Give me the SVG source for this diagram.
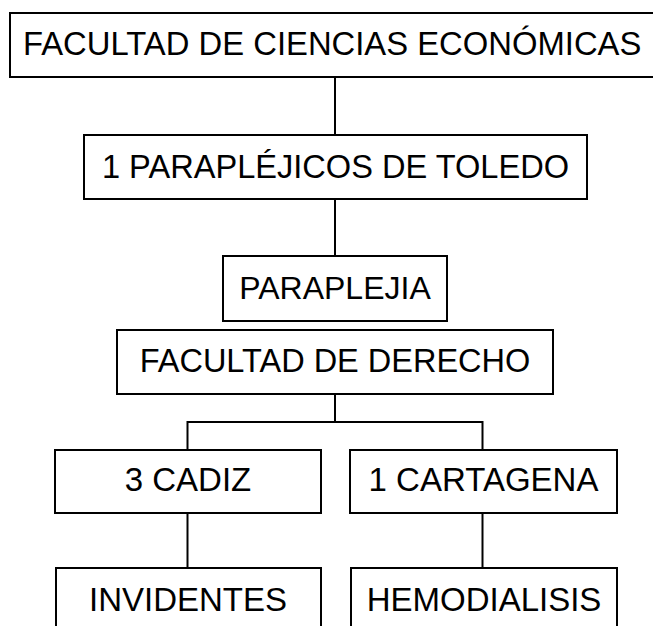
<svg xmlns="http://www.w3.org/2000/svg" width="653" height="626" viewBox="0 0 653 626">
<style>
.box{fill:#fff;stroke:#000;stroke-width:2}
.t{font-family:"Liberation Sans",Arial,sans-serif;font-size:33px;fill:#000;text-anchor:middle}
.c{stroke:#000;stroke-width:2;fill:none}
</style>
<rect width="653" height="626" fill="#fff"/>
<g id="connectors">
<line class="c" x1="335" y1="77" x2="335" y2="135"/>
<line class="c" x1="335" y1="199" x2="335" y2="256"/>
<polyline class="c" points="335,394 335,422 187.5,422 187.5,450"/>
<polyline class="c" points="335,422 482.5,422 482.5,450"/>
<line class="c" x1="187.5" y1="513" x2="187.5" y2="568"/>
<line class="c" x1="482.5" y1="513" x2="482.5" y2="568"/>
</g>
<g id="n1"><rect class="box" x="10" y="13" width="660" height="64"/><text class="t" x="23" y="55" style="text-anchor:start;font-size:32.8px">FACULTAD DE CIENCIAS ECONÓMICAS</text></g>
<g id="n2"><rect class="box" x="84" y="135" width="503" height="64"/><text class="t" x="335.5" y="178" style="font-size:32.6px">1 PARAPLÉJICOS DE TOLEDO</text></g>
<g id="n3"><rect class="box" x="223" y="256" width="224" height="65"/><text class="t" x="335" y="299" style="font-size:32px">PARAPLEJIA</text></g>
<g id="n4"><rect class="box" x="117" y="330" width="436" height="64"/><text class="t" x="335" y="372" style="font-size:32.5px">FACULTAD DE DERECHO</text></g>
<g id="n5"><rect class="box" x="55" y="450" width="266" height="63"/><text class="t" x="188" y="491">3 CADIZ</text></g>
<g id="n6"><rect class="box" x="350" y="450" width="267" height="63"/><text class="t" x="483.5" y="491">1 CARTAGENA</text></g>
<g id="n7"><rect class="box" x="56" y="568" width="265" height="70"/><text class="t" x="188" y="611">INVIDENTES</text></g>
<g id="n8"><rect class="box" x="351" y="568" width="266" height="70"/><text class="t" x="484" y="611">HEMODIALISIS</text></g>
</svg>
